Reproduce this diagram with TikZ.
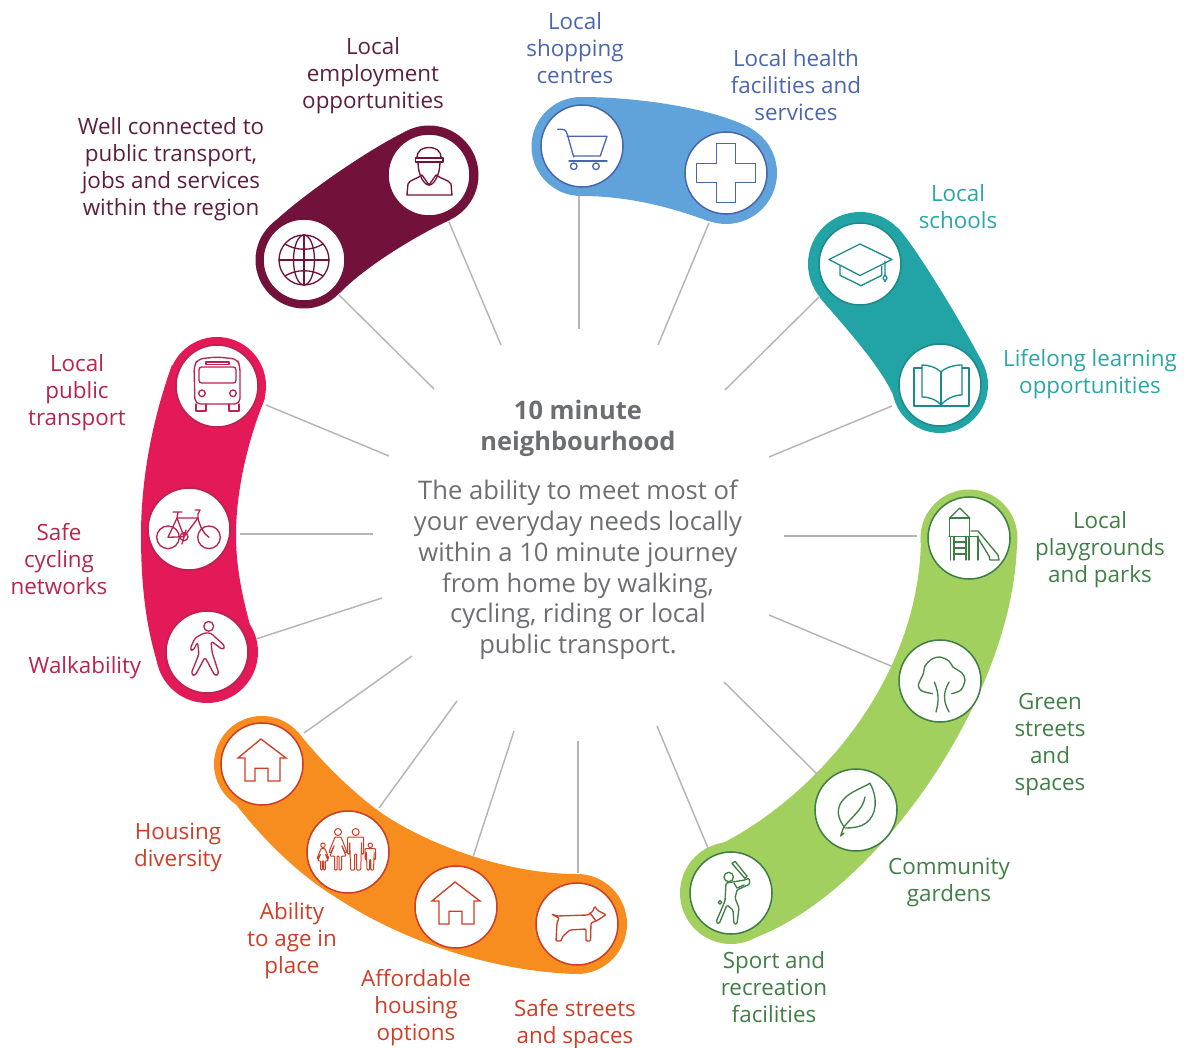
\documentclass[tikz,border=0pt]{standalone}
\usepackage{fontspec}
\setmainfont{Open Sans}
\definecolor{cMaroon}{HTML}{72123B}
\definecolor{tMaroon}{HTML}{5C1F40}
\definecolor{cBlue}{HTML}{5FA3DA}
\definecolor{tBlue}{HTML}{4A66B0}
\definecolor{cTeal}{HTML}{22A3A5}
\definecolor{tTeal}{HTML}{2BA6A6}
\definecolor{bTeal}{HTML}{1B8A8A}
\definecolor{cPink}{HTML}{E31958}
\definecolor{tPink}{HTML}{B8244F}
\definecolor{cOrange}{HTML}{F68D1E}
\definecolor{tOrange}{HTML}{CF3D26}
\definecolor{cGreen}{HTML}{A2D05F}
\definecolor{tGreen}{HTML}{3F7F45}
\definecolor{cGrey}{HTML}{6D6E71}
\definecolor{cSpoke}{HTML}{B5B5B5}
\newcommand{\manfig}{%
  \draw[rounded corners=0.6pt] (-8,-15) -- (8,-15) -- (8,2) -- (6,2) -- (6,-10) -- (5,18) -- (1,18) -- (1,2) -- (-1,2) -- (-1,18) -- (-5,18) -- (-6,-10) -- (-6,2) -- (-8,2) -- cycle;
  \draw (0,-20) circle [radius=3.5];}
\newcommand{\womanfig}{%
  \draw[rounded corners=0.6pt] (-3,-15) -- (3,-15) -- (9,0) -- (7.5,1) -- (3.5,-7) -- (8,4) -- (3.5,4) -- (3.5,18) -- (1,18) -- (1,4) -- (-1,4) -- (-1,18) -- (-3.5,18) -- (-3.5,4) -- (-8,4) -- (-3.5,-7) -- (-7.5,1) -- (-9,0) -- cycle;
  \draw (0,-20) circle [radius=3.5];}
\newcommand{\housefig}{%
  \draw[line join=miter] (-1,-25) -- (-24,-6) -- (-17,-6) -- (-17,17) -- (-7,17) -- (-7,4.3) -- (6,4.3) -- (6,17) -- (18,17) -- (18,-6) -- (24,-6) -- cycle;}
\tikzset{
  x=0.75pt,y=-0.75pt,
  spoke/.style={draw=cSpoke,line width=1.1pt},
  disc/.style={circle,fill=white,draw=#1,line width=1.15pt,minimum size=61.5pt,inner sep=0pt},
  glyph/.style={draw=#1,line width=1pt,line join=round,line cap=round},
  lab/.style={align=center,inner sep=0pt,text=#1,font=\fontsize{16.8}{20.25}\selectfont},
  head/.style={align=center,inner sep=0pt,text=cGrey,font=\fontsize{19.1}{23.25}\selectfont\bfseries},
  body/.style={align=center,inner sep=0pt,text=cGrey,font=\fontsize{19.2}{23.1}\selectfont}
}
\begin{document}
\begin{tikzpicture}
\useasboundingbox (0,0) rectangle (1186,1048);
% ---------- blobs
\fill[cMaroon] (304,260) circle [radius=48.5] (429,175) circle [radius=49.5];
\fill[cMaroon] (270,226) .. controls (300,196) and (375,145) .. (409,130) -- (450,220) .. controls (415,236) and (362,269) .. (340,293) -- cycle;
\fill[cBlue] (581,146.5) circle [radius=49.5] (726,173) circle [radius=51];
\fill[cBlue] (581,97) .. controls (640,97) and (717,109) .. (752,129) -- (708,221) .. controls (673,208) and (630,196) .. (581,196) -- cycle;
\fill[cTeal] (860,264) circle [radius=52] (940,385) circle [radius=48];
\fill[cTeal] (897,227) .. controls (917,247) and (975,346) .. (984,366) -- (895,400) .. controls (885,370) and (837,318) .. (820,298) -- cycle;
\fill[cPink] (217,386) circle [radius=49] (207,652) circle [radius=51];
\fill[cPink] (172,365) .. controls (152,420) and (141,480) .. (141,535) .. controls (141,590) and (147,630) .. (158,665) -- (254,640) .. controls (243,600) and (236,570) .. (236,535) .. controls (236,490) and (248,440) .. (265,398) -- cycle;
\fill[cOrange] (262,764) circle [radius=48] (577,924) circle [radius=50];
\fill[cOrange] (298,732) .. controls (320,760) and (350,790) .. (380,812) .. controls (420,840) and (500,874) .. (577,874) -- (577,974) .. controls (500,972) and (410,945) .. (340,900) .. controls (290,870) and (250,825) .. (223,787) -- cycle;
\fill[cGreen] (969,538) circle [radius=48.5] (731,893) circle [radius=51];
\fill[cGreen] (921,535) .. controls (921,690) and (800,810) .. (708,850) -- (742,942) .. controls (870,905) and (1017,695) .. (1017,538) -- cycle;
% ---------- connector ends
\coordinate (s1) at (339,295);  \coordinate (e1) at (434,389);
\coordinate (s2) at (449,222);  \coordinate (e2) at (501,345);
\coordinate (s3) at (579,196);  \coordinate (e3) at (579,329);
\coordinate (s4) at (709,223);  \coordinate (e4) at (658,345);
\coordinate (s5) at (819,297);  \coordinate (e5) at (725,390);
\coordinate (s6) at (892,406);  \coordinate (e6) at (769,457);
\coordinate (s7) at (917,536);  \coordinate (e7) at (784,536);
\coordinate (s8) at (891,666);  \coordinate (e8) at (769,615);
\coordinate (s9) at (818,775);  \coordinate (e9) at (724,682);
\coordinate (s10) at (708,848); \coordinate (e10) at (657,726);
\coordinate (s11) at (578,873); \coordinate (e11) at (578,741);
\coordinate (s12) at (473,857); \coordinate (e12) at (514,731);
\coordinate (s13) at (379,808); \coordinate (e13) at (457,701);
\coordinate (s14) at (304,733); \coordinate (e14) at (412,656);
\coordinate (s15) at (256,639); \coordinate (e15) at (382,598);
\coordinate (s16) at (240,534); \coordinate (e16) at (373,534);
\coordinate (s17) at (266,405); \coordinate (e17) at (389,456);
\foreach \i in {1,...,17} \draw[spoke] (s\i) -- (e\i);
% ---------- discs
\node[disc=cMaroon] (worker) at (429,175) {};
\node[disc=cMaroon] (globe) at (304,260) {};
\node[disc=tBlue] (cart) at (582,146) {};
\node[disc=tBlue] (plus) at (726,173) {};
\node[disc=bTeal] (cap) at (860,264) {};
\node[disc=bTeal] (book) at (940,385) {};
\node[disc=tPink] (bus) at (217,386) {};
\node[disc=tPink] (bike) at (189,529) {};
\node[disc=tPink] (walker) at (207,652) {};
\node[disc=tOrange] (house) at (262,764) {};
\node[disc=tOrange] (family) at (348,852) {};
\node[disc=tOrange] (afford) at (456,907) {};
\node[disc=tOrange] (dog) at (577,924) {};
\node[disc=tGreen] (play) at (969,538) {};
\node[disc=tGreen] (tree) at (940,681) {};
\node[disc=tGreen] (leaf) at (856,810) {};
\node[disc=tGreen] (cricket) at (731,893) {};
% ---------- icons
\begin{scope}[shift={(worker.center)},glyph=cMaroon]
  \draw (-12,-17) .. controls (-12,-25) and (-6,-27.5) .. (0,-27.5) .. controls (6,-27.5) and (12,-25) .. (12,-17);
  \draw (-13.5,-17) -- (14,-17) -- (14,-13) -- (-13.5,-13) -- cycle;
  \draw (-11,-13) .. controls (-11,0) and (-5,10) .. (0,10) .. controls (5,10) and (11,0) .. (11,-13);
  \draw (-22,20) -- (23,20) -- (22,9) .. controls (20,5) and (12,4) .. (7,0) -- (0,10) -- (-7,0) .. controls (-12,4) and (-20,5) .. (-21,9) -- cycle;
\end{scope}
\begin{scope}[shift={(globe.center)},glyph=cMaroon]
  \draw (0,0) circle [radius=25];
  \draw (0,0) ellipse [x radius=10.5,y radius=25];
  \draw (0,-25) -- (0,25) (-25,0) -- (25,0);
  \draw (-19,-16) .. controls (-8,-9) and (8,-9) .. (19,-16);
  \draw (-19,16) .. controls (-8,9) and (8,9) .. (19,16);
\end{scope}
\begin{scope}[shift={(cart.center)},glyph=tBlue]
  \draw (-24.3,-16.7) -- (-20,-16.7) .. controls (-16,-16.7) and (-15,-13) .. (-14.5,-11) -- (-8.3,11);
  \draw (-15,-9.7) -- (25,-9.7) -- (18.3,10) -- (-8.3,10);
  \draw (-13,15) -- (25,15);
  \draw (-8.3,20.3) circle [radius=3.3] (14,20.3) circle [radius=3.3];
\end{scope}
\begin{scope}[shift={(plus.center)},glyph=tBlue,line join=miter]
  \draw (-9.5,-29.5) -- (9.5,-29.5) -- (9.5,-9.5) -- (29.5,-9.5) -- (29.5,9.5) -- (9.5,9.5) -- (9.5,29.5) -- (-9.5,29.5) -- (-9.5,9.5) -- (-29.5,9.5) -- (-29.5,-9.5) -- (-9.5,-9.5) -- cycle;
\end{scope}
\begin{scope}[shift={(cap.center)},glyph=bTeal]
  \draw (0,-20) -- (32,-4.5) -- (0,11.5) -- (-31,-4.5) -- cycle;
  \draw (-20,2.3) -- (-20,11.3) -- (1,21.7) -- (21.7,11.3) -- (21.7,2.3);
  \draw (25,-2.7) -- (25,10.7) -- (27,14) -- (25,17.5) -- (23,14) -- (25,10.7);
\end{scope}
\begin{scope}[shift={(book.center)},glyph=bTeal]
  \draw (-18,-17) -- (-26,-17) -- (-26,21) -- (29,21) -- (29,-17) -- (22,-17);
  \draw (1,-13) .. controls (-4,-18) and (-12,-20) .. (-18,-20) -- (-18,12) .. controls (-10,12) and (-3,15) .. (1,20);
  \draw (1,-13) .. controls (6,-18) and (15,-20) .. (22,-20) -- (22,10) .. controls (14,10) and (6,14) .. (1,20);
  \draw (1,-13) -- (1,21);
\end{scope}
\begin{scope}[shift={(bus.center)},glyph=tPink]
  \draw[rounded corners=4pt] (-22,18) -- (-23,-20) -- (-19,-27) -- (0,-29) -- (20,-27) -- (23,-20) -- (23,18) -- cycle;
  \draw (-21,18) -- (-21,25) -- (-11,25) -- (-11,18);
  \draw (12,18) -- (12,25) -- (22,25) -- (22,18);
  \draw[rounded corners=2pt] (-18,-19) rectangle (19,-3);
  \draw (-11,-24) rectangle (12,-21.5);
  \draw (-15,7.3) circle [radius=3.3] (16,7.3) circle [radius=3.3];
\end{scope}
\begin{scope}[shift={(bike.center)},glyph=tPink]
  \draw (-21,8.3) circle [radius=11.3] (20,8.3) circle [radius=11.3];
  \draw (-12,-11) -- (9,-11) -- (-5,7.7) -- (-12,-11) -- (-21,8.3) -- (-5,7.7);
  \draw (-16,-17) -- (-7,-17) (-11,-17) -- (-12,-11);
  \draw (6,-19) -- (11,-19) -- (9,-15) -- (9,-11) .. controls (11,-3) and (13,3) .. (20,8.3);
  \draw (-5,7.7) circle [radius=4];
  \draw (-7,15) -- (-3,1);
\end{scope}
\begin{scope}[shift={(walker.center)},glyph=tPink]
  \draw (1.7,-25.7) circle [radius=4.9];
  \draw[rounded corners=2pt] (-3,-19) -- (-12,-14) -- (-17,-3) -- (-14,-1) -- (-9.5,-10) -- (-8,2) -- (-16,22) -- (-12,24) -- (-2,5) -- (8,24) -- (12,22) -- (5,0) -- (4,-11) -- (16,-2) -- (18,-6) -- (8,-15) -- (4,-19) -- cycle;
\end{scope}
\begin{scope}[shift={(house.center)},glyph=tOrange]\housefig\end{scope}
\begin{scope}[shift={(afford.center)},glyph=tOrange]\housefig\end{scope}
\begin{scope}[shift={(family.center)},glyph=tOrange,line width=0.75pt]
  \begin{scope}[shift={(-10,0)}]\womanfig\end{scope}
  \begin{scope}[shift={(7.7,0)}]\manfig\end{scope}
  \begin{scope}[shift={(22.3,6.3)},scale=0.65]\manfig\end{scope}
  \begin{scope}[shift={(-25,6.3)},scale=0.65]\womanfig\end{scope}
\end{scope}
\begin{scope}[shift={(dog.center)},glyph=tOrange]
  \draw[rounded corners=0.8pt] (-25.7,-10) -- (-20,-8) -- (11,-9) -- (16,-13) -- (17.7,-17.7) -- (21,-13.3) -- (29,-9.3) -- (24,-6) -- (21,-4) -- (14,-1) -- (13.5,17) -- (9,17) -- (9,5) -- (-7,6) -- (-14,12) -- (-16,17) -- (-21,17) -- (-20,-1) -- (-18,-6) -- cycle;
  \draw (13,-11) -- (19,-3);
\end{scope}
\begin{scope}[shift={(play.center)},glyph=tGreen]
  \draw (-9.3,-30) -- (-19.3,-20) -- (0.7,-20) -- cycle;
  \draw (-19.3,-20) rectangle (0.7,-1.7);
  \draw (-20,-1.7) -- (8,-1.7);
  \draw (-18.3,-1.7) -- (-18.3,22) (-15,-1.7) -- (-15,22) (0,-1.7) -- (0,22) (-3,-1.7) -- (-3,22);
  \draw (-15,4) -- (-3,4) (-15,10) -- (-3,10) (-15,16) -- (-3,16);
  \draw (2,-7) -- (9,-7) -- (29,17) -- (30,22) -- (21,22) -- (20,18) -- (8,-1.7);
  \draw (9,-1.7) -- (9,22);
\end{scope}
\begin{scope}[shift={(tree.center)},glyph=tGreen]
  \draw plot[smooth] coordinates {(-7.3,12.7) (-18,10) (-21.7,4.3) (-16.7,-7.3) (-15,-15) (-8,-22) (0,-24) (9,-20) (13,-14) (22,-8) (25,-1) (21,9) (11.7,12.7)};
  \draw (-5.7,1) .. controls (-1,12) and (-1,20) .. (-4,31);
  \draw (9,1) .. controls (3,12) and (3,20) .. (9,31);
\end{scope}
\begin{scope}[shift={(leaf.center)},glyph=tGreen]
  \draw (14,-26.7) .. controls (3,-20) and (-18,-15) .. (-17.7,3) .. controls (-17,10) and (-14,14) .. (-11,18);
  \draw (14,-26.7) .. controls (22,-12) and (21,5) .. (10,13) .. controls (5,17) and (-3,18) .. (-10,18);
  \draw (9,-13) .. controls (7,0) and (-6,8) .. (-12.7,18) -- (-15.3,26) -- (-12,23);
\end{scope}
\begin{scope}[shift={(cricket.center)},glyph=tGreen]
  \draw (4,-31.7) -- (16,-16.7) -- (14,-14.5) -- (1,-29.5) -- cycle;
  \draw (-2.3,-16) circle [radius=4.7];
  \draw (-11,9.3) circle [radius=1.8];
  \draw[rounded corners=1pt] (-5,-10) -- (14,-13) -- (18,-15) -- (19,-9) -- (6,-3) -- (4,5) -- (8,15) -- (6,31) -- (3,31) -- (2,17) -- (-4,12) -- (-12,31) -- (-15,29) -- (-6,8) -- cycle;
  \draw (3,-10) -- (6,-5) -- (13,-8);
\end{scope}
% ---------- labels
\node[lab=tMaroon] (lWell) at (171,169.5) {Well connected to\\public transport,\\jobs and services\\within the region};
\node[lab=tMaroon] (lEmp) at (373,76) {Local\\employment\\opportunities};
\node[lab=tBlue] (lShop) at (575,48) {Local\\shopping\\centres};
\node[lab=tBlue] (lHealth) at (796,85) {Local health\\facilities and\\services};
\node[lab=tTeal] (lSchool) at (958,207) {Local\\schools};
\node[lab=tTeal] (lLife) at (1090,374) {Lifelong learning\\opportunities};
\node[lab=tGreen] (lPlay) at (1100,550) {Local\\playgrounds\\and parks};
\node[lab=tGreen] (lGreen) at (1050,745) {Green\\streets\\and\\spaces};
\node[lab=tGreen] (lComm) at (949,882) {Community\\gardens};
\node[lab=tGreen] (lSport) at (774,987) {Sport and\\recreation\\facilities};
\node[lab=tOrange] (lSafe) at (575,1024.5) {Safe streets\\and spaces};
\node[lab=tOrange] (lAff) at (416,1008) {Affordable\\housing\\options};
\node[lab=tOrange] (lAge) at (292,941) {Ability\\to age in\\place};
\node[lab=tOrange] (lHouse) at (178,847) {Housing\\diversity};
\node[lab=tPink] (lWalk) at (85,668) {Walkability};
\node[lab=tPink] (lCycle) at (59,559) {Safe\\cycling\\networks};
\node[lab=tPink] (lTrans) at (77,393) {Local\\public\\transport};
\node[head] (title) at (578,428) {10 minute\\neighbourhood};
\node[body] (desc) at (578,570) {The ability to meet most of\\your everyday needs locally\\within a 10 minute journey\\from home by walking,\\cycling, riding or local\\public transport.};
\end{tikzpicture}
\end{document}
